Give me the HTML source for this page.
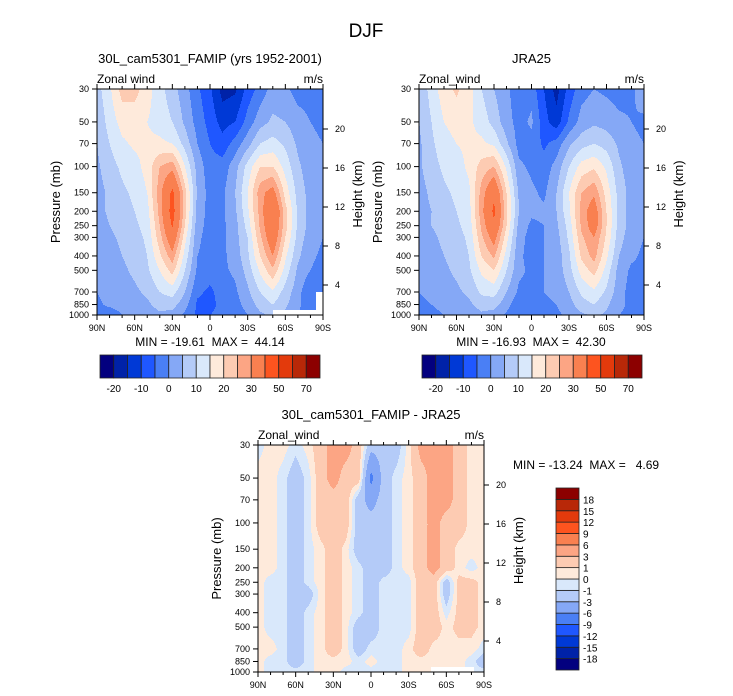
<!DOCTYPE html>
<html><head><meta charset="utf-8">
<style>
html,body{margin:0;padding:0;background:#fff;}
svg{display:block;font-family:"Liberation Sans",Arial,sans-serif;}
</style></head>
<body>
<svg id="fig" width="733" height="696" viewBox="0 0 733 696" xmlns="http://www.w3.org/2000/svg">
<text x="366" y="37" font-size="19" text-anchor="middle">DJF</text>
</svg>
<script>
// ---- data ----
const lats = ["90N","80N","70N","60N","50N","40N","30N","20N","10N","0","10S","20S","30S","40S","50S","60S","70S","80S","90S"];
const levels = [30,50,70,100,150,200,250,300,400,500,700,850,1000];
const pLabels = [30,50,70,100,150,200,250,300,400,500,700,850,1000];
const xTickLabels = ["90N","60N","30N","0","30S","60S","90S"];
const heightTicks = [20,16,12,8,4];
const windBounds = [-20,-15,-10,-5,0,5,10,15,20,25,30,40,50,60,70];
const windBarLabels = ["-20","","-10","","0","","10","","20","","30","","50","","70"];
const diffBounds = [-18,-15,-12,-9,-6,-3,-1,0,1,3,6,9,12,15,18];
const diffBarLabels = ["-18","-15","-12","-9","-6","-3","-1","0","1","3","6","9","12","15","18"];
const colors16 = ['#03007f','#0022a8','#0039d6','#1f57ff','#4a7ff5','#85a8f6','#b4cbf8','#d9e8fb','#feeadb','#fdcbb2','#fca584','#f98050','#fd541f','#e33a0c','#b82808','#8c0000'];

const modelWind = [
[8,14,22,22,17,12,7,2,-4,-9,-17,-16,-8,-3,2,1,-2,-2,-2],
[6,12,17,17,15,13,10,4,-2,-7,-12,-10,-3,3,6,5,2,0,-1],
[5,10,14,16,16,16,15,8,0,-5,-8,-3,3,10,12,9,4,1,0],
[4,8,11,13,17,25,28,15,3,-3,-3,3,12,20,20,13,6,2,0],
[3,6,9,11,15,28,42,22,4,-2,-1,5,15,28,33,18,8,3,0],
[3,6,8,10,13,27,44,22,3,-2,-1,4,14,27,40,22,9,3,0],
[2,5,7,9,12,25,41,20,2,-2,-1,3,12,26,38,22,9,3,0],
[2,4,6,8,11,23,36,17,1,-2,-1,3,10,24,36,20,8,2,0],
[1,3,5,7,10,19,28,13,0,-2,-1,2,9,20,30,16,6,1,-1],
[1,3,4,6,9,15,22,10,-1,-3,-1,1,7,16,24,13,4,0,-2],
[0,2,3,4,6,10,12,5,-4,-6,-3,-1,4,10,14,8,2,-5,-3],
[-1,1,2,3,4,7,7,2,-6,-6,-4,-2,2,7,10,6,1,-3,-3],
[-2,-3,0,1,2,4,3,-1,-6,-5,-4,-3,0,4,6,4,0,-3,-3]];
const jraWind = [
[6,12,18,21,17,10,5,1,-3,-2,-10,-17,-8,-2,0,-1,-2,-1,3],
[5,10,15,17,16,13,8,2,-2,1,-8,-13,-4,2,4,3,1,0,-1],
[4,9,13,15,16,16,14,6,-2,-2,-6,-3,4,8,10,8,4,1,0],
[4,8,11,13,16,22,25,14,1,-1,-3,2,10,17,19,14,6,2,1],
[3,6,9,11,14,27,38,20,4,1,-1,5,15,25,29,18,8,3,1],
[3,5,8,10,13,28,42,21,5,1,1,5,14,27,34,20,8,3,1],
[2,5,7,9,12,26,38,20,3,-1,0,4,12,26,34,20,8,3,1],
[2,4,6,8,11,24,33,17,2,-2,0,3,11,24,30,19,7,2,0],
[1,3,5,7,10,20,26,13,1,-2,0,2,9,21,27,16,5,1,-1],
[1,2,4,6,9,16,20,10,1,-1,0,2,8,17,22,13,3,-1,-1],
[0,1,3,4,6,11,12,5,-1,-1,0,1,5,11,14,9,2,-2,-1],
[-1,0,1,2,4,7,7,2,-4,-2,-1,0,3,8,10,6,1,-1,-1],
[-2,-1,0,1,2,4,3,-1,-5,-3,-2,-1,1,4,6,4,0,-1,-1]];
const diffWind = [
[-0.5,0.5,0.5,-0.5,0.5,2,4,4,2,-2,-2,-2,0.5,4,4,4,2,0.5,0.5],
[0.5,0.5,-0.5,-2,-0.5,2,4,2,2,-7,-2,-0.5,0.5,2,4,4,2,0.5,0.5],
[0.5,0.5,-0.5,-2,-0.5,2,2,2,-2,-4,-2,-0.5,0.5,2,4,4,2,0.5,0.5],
[0.5,0.5,-0.5,-2,-0.5,2,2,2,-2,-2,-2,-0.5,0.5,2,4,2,2,0.5,0.5],
[0.5,0.5,-0.5,-2,-0.5,0.5,2,0.5,-2,-2,-2,-0.5,0.5,2,4,2,0.5,0.5,0.5],
[0.5,0.5,-0.5,-2,-0.5,0.5,2,0.5,-0.5,-2,-2,-0.5,0.5,2,4,2,0.5,-0.5,0.5],
[0.5,-0.5,-0.5,-2,-0.5,0.5,2,0.5,-0.5,-2,-0.5,-0.5,-0.5,2,2,-2,1.5,1.5,0.5],
[0.5,-0.5,-0.5,-2,-2,0.5,2,0.5,-0.5,-2,-0.5,-0.5,-0.5,2,2,-2,1.5,1.5,0.5],
[0.5,-0.5,-0.5,-2,-0.5,0.5,2,0.5,-0.5,-2,-0.5,-0.5,-0.5,2,2,-0.5,1.5,1.5,0.5],
[0.5,-0.5,-0.5,-2,-0.5,0.5,2,0.5,-2,-2,-0.5,-0.5,-0.5,2,2,0.5,1.5,1.5,0.5],
[0.5,0.5,-0.5,-2,-0.5,0.5,2,0.5,-2,-0.5,-0.5,-0.5,0.5,2,0.5,0.5,0.5,0.5,-0.5],
[0.5,-0.5,-0.5,-2,-0.5,0.5,0.5,0.5,-0.5,0.5,-0.5,-0.5,0.5,0.5,0.5,0.5,0.5,-0.5,-2],
[0.5,-0.5,-0.5,-0.5,-0.5,0.5,0.5,-0.5,-0.5,-0.5,-0.5,-0.5,0.5,0.5,0.5,0.5,0.5,-0.5,-0.5]];

const NS = "http://www.w3.org/2000/svg";
const svg = document.getElementById('fig');
function mk(tag, attrs, parent){
  const e = document.createElementNS(NS, tag);
  for (const k in attrs) e.setAttribute(k, attrs[k]);
  (parent||svg).appendChild(e);
  return e;
}
function txt(x,y,s,size,anchor,parent){
  const t = mk('text',{x:x,y:y,'font-size':size,'text-anchor':anchor||'start'},parent);
  t.textContent = s; return t;
}
const LP0 = Math.log(30), LP1 = Math.log(1000);
function yOfP(p, y0, h){ return y0 + (Math.log(p)-LP0)/(LP1-LP0)*h; }
function sample(grid, fx, lp){
  const i0 = Math.min(Math.floor(fx), lats.length-2), tx = fx - i0;
  let j0 = 0;
  while (j0 < levels.length-2 && Math.log(levels[j0+1]) < lp) j0++;
  const la = Math.log(levels[j0]), lb = Math.log(levels[j0+1]);
  let ty = (lp-la)/(lb-la); ty = Math.max(0,Math.min(1,ty));
  const a = grid[j0][i0]*(1-tx)+grid[j0][i0+1]*tx;
  const b = grid[j0+1][i0]*(1-tx)+grid[j0+1][i0+1]*tx;
  return a*(1-ty)+b*ty;
}
function cls(v,bounds){ let k=0; while(k<bounds.length && v>=bounds[k]) k++; return k; }

function panel(o){
  const g = mk('g',{});
  
  
  const {x0,y0,w,h} = o;
  const field = mk('g',{},g);
  
  
  for (let py=0; py<h; py++){
    const lp = LP0 + (py+0.5)/h*(LP1-LP0);
    let runStart=0, runC=-1;
    for (let px=0; px<=w; px++){
      let c=-2;
      if (px<w){ const fx=(px+0.5)/w*(lats.length-1); c=cls(sample(o.grid,fx,lp),o.bounds); }
      if (c!==runC){
        if (runC>=0){
          const r = mk('rect',{x:x0+runStart,y:y0+py,width:px-runStart,height:1.05,fill:colors16[runC]},field);
          
          
        }
        runStart=px; runC=c;
      }
    }
  }
  (o.masks||[]).forEach(m=>{ mk('rect',{x:m[0],y:m[1],width:m[2],height:m[3],fill:'#fff'},g); });
  const fr = mk('rect',{x:x0,y:y0,width:w,height:h,fill:'none',stroke:'#000','stroke-width':1},g);
  
  
  // x ticks
  for (let i=0;i<lats.length;i++){
    const x = x0 + i/(lats.length-1)*w;
    const L = (i%3===0)?5:3;
    mk('line',{x1:x,y1:y0+h,x2:x,y2:y0+h+L,stroke:'#000'},g);
    mk('line',{x1:x,y1:y0,x2:x,y2:y0-L,stroke:'#000'},g);
  }
  xTickLabels.forEach((s,k)=>{
    const t = txt(x0+k/6*w, y0+h+16, s, 9, 'middle', g);
    
    
  });
  pLabels.forEach(p=>{
    const y = yOfP(p,y0,h);
    mk('line',{x1:x0-5,y1:y,x2:x0,y2:y,stroke:'#000'},g);
    const t = txt(x0-8, y+3, String(p), 9, 'end', g);
    
    
  });
  heightTicks.forEach(z=>{
    const y = y0+40+(20-z)*9.75;
    mk('line',{x1:x0+w,y1:y,x2:x0+w+5,y2:y,stroke:'#000'},g);
    const t = txt(x0+w+12, y+3, String(z), 9, 'start', g);
    
    
  });
  const yt = txt(0,0,'Pressure (mb)',13,'middle',g);
  yt.setAttribute('transform',`translate(${x0-37},${y0+h/2}) rotate(-90)`);
  
  
  const ht = txt(0,0,'Height (km)',13,'middle',g);
  ht.setAttribute('transform',`translate(${x0+w+39},${y0+h/2-8}) rotate(-90)`);
  
  
  const tt = txt(x0+w/2, y0-26, o.title, 13, 'middle', g);
  
  
  const vl = txt(x0, y0-6, o.varname, 12, 'start', g);
  
  
  const ul = txt(x0+w, y0-6, 'm/s', 12, 'end', g);
  
  
  if (o.minmax){
    const mm = txt(o.minmax[0], o.minmax[1], o.minmax[2], 12, o.minmax[3], g);
    mm.setAttribute('xml:space','preserve');
    mm.style.whiteSpace='pre';
    
    
  }
}
function hbar(x0,y0,w,h,name){
  const g = mk('g',{});
  
  
  const bw = w/colors16.length;
  colors16.forEach((c,i)=>{
    const r = mk('rect',{x:x0+i*bw,y:y0,width:bw,height:h,fill:c,stroke:'#222','stroke-width':0.8},g);
    
    
  });
  windBarLabels.forEach((s,i)=>{
    if(!s) return;
    const t = txt(x0+(i+1)*bw, y0+h+14, s, 10, 'middle', g);
    
    
  });
}
function vbar(x0,y0,w,h,name){
  const g = mk('g',{});
  
  
  const bh = h/colors16.length;
  colors16.forEach((c,i)=>{
    const r = mk('rect',{x:x0,y:y0+h-(i+1)*bh,width:w,height:bh,fill:c,stroke:'#222','stroke-width':0.8},g);
    
    
  });
  diffBarLabels.forEach((s,i)=>{
    const t = txt(x0+w+4, y0+h-(i+1)*bh+4, s, 10, 'start', g);
    
    
  });
}
panel({name:'model-panel',x0:97,y0:89,w:226,h:226,grid:modelWind,bounds:windBounds,
  title:'30L_cam5301_FAMIP (yrs 1952-2001)',varname:'Zonal wind',
  minmax:[210,346,'MIN = -19.61  MAX =  44.14','middle'],
  masks:[[273,310,50,5],[316,292,7,23]]});
panel({name:'jra25-panel',x0:419,y0:89,w:225,h:226,grid:jraWind,bounds:windBounds,
  title:'JRA25',varname:'Zonal_wind',
  minmax:[531,346,'MIN = -16.93  MAX =  42.30','middle']});
panel({name:'difference-panel',x0:258,y0:445,w:226,h:227,grid:diffWind,bounds:diffBounds,
  title:'30L_cam5301_FAMIP - JRA25',varname:'Zonal_wind',
  minmax:[513,469,'MIN = -13.24  MAX =   4.69','start'],
  masks:[[431,667,43,5]]});
hbar(100,355,220,23,'model-colorbar');
hbar(422,355,220,23,'jra25-colorbar');
vbar(556,488,23,182,'difference-colorbar');
</script>
</body></html>
